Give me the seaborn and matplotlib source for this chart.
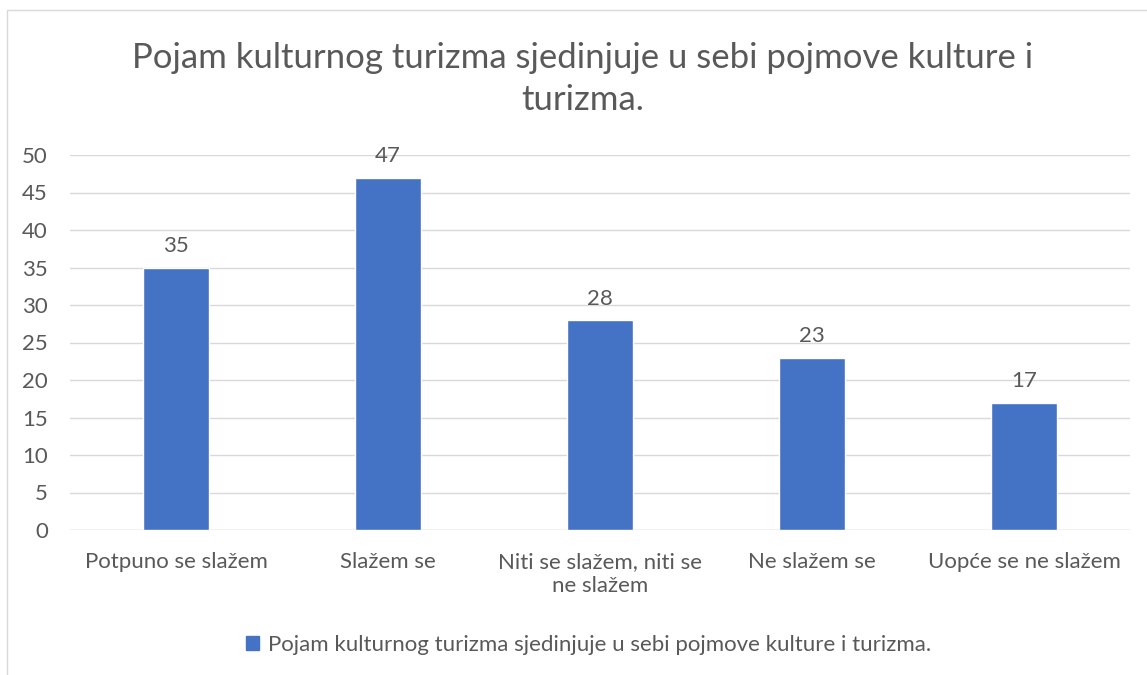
import seaborn as sns
import pandas as pd
from matplotlib import pyplot as plt
from matplotlib.patches import Rectangle

categories = ["Potpuno se slažem", "Slažem se", "Niti se slažem, niti se\nne slažem",
              "Ne slažem se", "Uopće se ne slažem"]
values = [35, 47, 28, 23, 17]
series_name = "Pojam kulturnog turizma sjedinjuje u sebi pojmove kulture i turizma."
title = "Pojam kulturnog turizma sjedinjuje u sebi pojmove kulture i\nturizma."

sns.set_theme(style="white")
plt.rcParams['font.family'] = ['Lato', 'DejaVu Sans']
text_col = "#595959"
bar_col = "#4472C4"

df = pd.DataFrame({"cat": categories, "val": values})

fig = plt.figure(figsize=(11.47, 6.75), dpi=100)
ax = fig.add_axes([70 / 1147, 1 - 530 / 675, 1060 / 1147, 375 / 675])
sns.barplot(data=df, x="cat", y="val", color=bar_col, width=0.31, saturation=1, ax=ax, zorder=3)

ax.set_ylim(0, 50)
ax.set_yticks(range(0, 51, 5))
ax.yaxis.grid(True, color="#d9d9d9", linewidth=1, zorder=0)
for s in ax.spines.values():
    s.set_visible(False)
ax.axhline(0, color="#d9d9d9", linewidth=1, zorder=1)
ax.set_xlabel("")
ax.set_ylabel("")
ax.tick_params(axis="y", labelsize=16, labelcolor=text_col, length=0, pad=16)
ax.tick_params(axis="x", labelsize=16, labelcolor=text_col, length=0, pad=16)
for lbl in ax.get_xticklabels():
    lbl.set_linespacing(1.25)

for i, v in enumerate(values):
    ax.annotate(str(v), (i, v), xytext=(0, 8), textcoords="offset points",
                ha="center", va="bottom", fontsize=16, color=text_col)

fig.text(0.508, 1 - 79 / 675, title, ha="center", va="center", fontsize=25,
         color=text_col, linespacing=1.42)

fig.patches.append(Rectangle((7 / 1147, -0.1), 1.2, 1 - 10 / 675 + 0.1, transform=fig.transFigure,
                             fill=False, edgecolor="#d9d9d9", linewidth=1))

leg = fig.legend(handles=[Rectangle((0, 0), 1, 1, color=bar_col)], labels=[series_name],
                 loc="center", bbox_to_anchor=(0.513, 1 - 645 / 675), frameon=False,
                 fontsize=16, handlelength=0.6, handleheight=0.6, handletextpad=0.4)
for t in leg.get_texts():
    t.set_color(text_col)

plt.savefig("out.png", dpi=100)
